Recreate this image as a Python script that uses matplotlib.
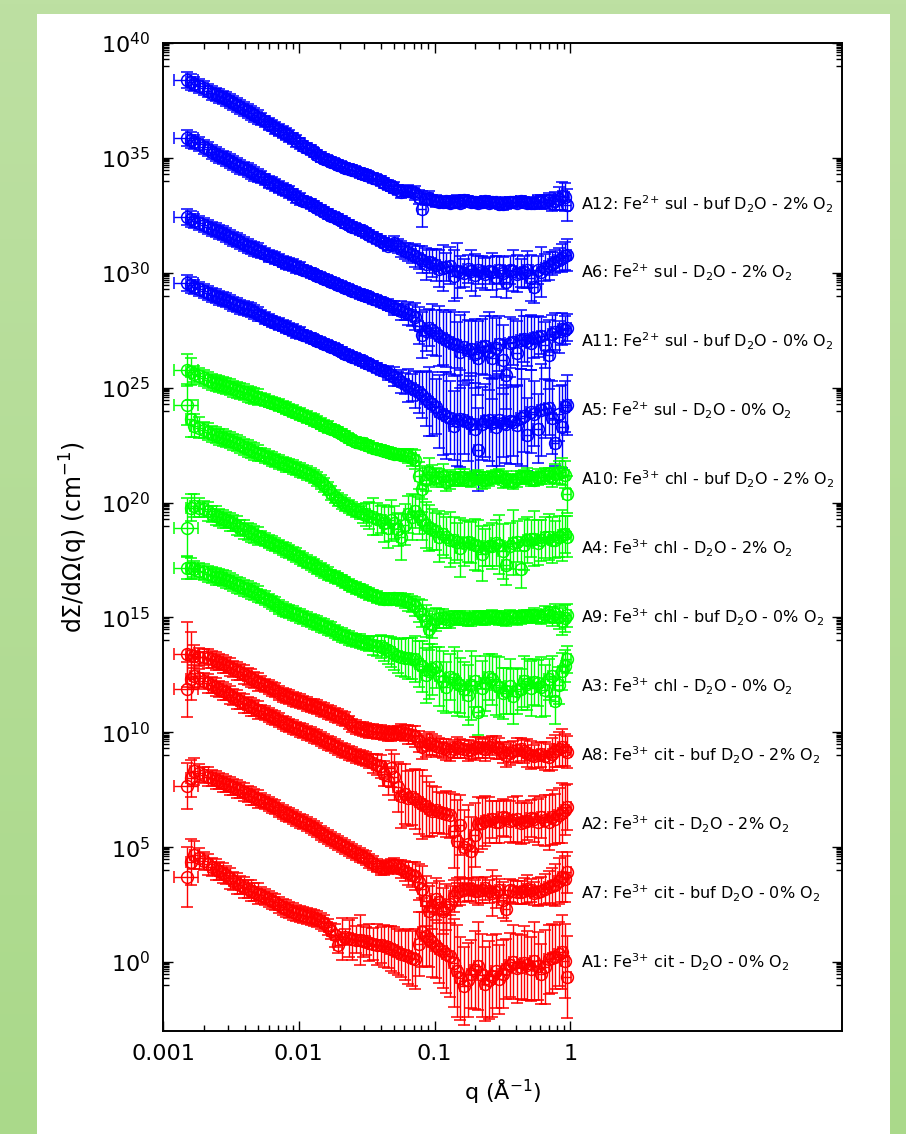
import numpy as np
import matplotlib.pyplot as plt
from matplotlib.ticker import FixedLocator, FixedFormatter, LogFormatterMathtext, NullFormatter
from matplotlib.patches import Rectangle

# scattering vector q (1/Angstrom): main grid and the interleaved grid
q = [0.0015, 0.0017, 0.0020, 0.0023, 0.0026, 0.0029, 0.0033, 0.0037, 0.0042, 0.0047,
     0.0053, 0.0060, 0.0067, 0.0076, 0.0085, 0.0096, 0.0108, 0.0122, 0.0137, 0.0154,
     0.0174, 0.0196, 0.0220, 0.0248, 0.028, 0.031, 0.035, 0.040, 0.045, 0.050,
     0.057, 0.064,
     0.072, 0.081, 0.091, 0.102, 0.115, 0.130, 0.146, 0.165, 0.185, 0.21,
     0.235, 0.265, 0.30, 0.335, 0.38, 0.43, 0.48, 0.54, 0.61, 0.69,
     0.77, 0.87, 0.95]
q_mid = [0.0016, 0.00185, 0.00215, 0.00245, 0.00275, 0.0031, 0.0035, 0.00395, 0.00445, 0.0050,
         0.00565, 0.00635, 0.0071, 0.0080, 0.0090, 0.0102, 0.0115, 0.0129, 0.0145, 0.0164,
         0.0185, 0.0208, 0.0234, 0.0264, 0.0295, 0.033, 0.0375, 0.0425, 0.0475, 0.0535,
         0.0605, 0.068,
         0.0765, 0.086, 0.0965, 0.108, 0.122, 0.138, 0.155, 0.175, 0.197, 0.222,
         0.25, 0.282, 0.317, 0.357, 0.405, 0.455, 0.51, 0.575, 0.65, 0.73,
         0.82, 0.91]

# log10 of dSigma/dOmega, each sample shifted by 10^3 from the next
lg_A12 = [38.39, 38.22, 38.04, 37.83, 37.70, 37.57, 37.39, 37.22, 37.04, 36.87,
          36.70, 36.48, 36.31, 36.13, 35.96, 35.74, 35.52, 35.35, 35.13, 34.96,
          34.83, 34.70, 34.57, 34.48, 34.35, 34.26, 34.13, 34.00, 33.83, 33.70,
          33.52, 33.57,
          33.48, 32.78, 33.26, 33.13, 33.09, 33.04, 33.13, 33.17, 33.09, 33.04,
          33.13, 33.09, 33.00, 33.04, 33.09, 33.13, 33.04, 33.04, 33.09, 33.17,
          33.13, 33.35, 32.96]
lgm_A12 = [38.30, 38.13, 37.93, 37.76, 37.63, 37.48, 37.30, 37.13, 36.95, 36.78,
           36.59, 36.40, 36.22, 36.04, 35.85, 35.63, 35.43, 35.24, 35.04, 34.89,
           34.76, 34.63, 34.52, 34.41, 34.30, 34.19, 34.06, 33.91, 33.76, 33.61,
           33.55, 33.50,
           33.30, 33.20, 33.17, 33.09, 33.13, 33.09, 33.04, 33.13, 33.07, 33.09,
           33.04, 33.07, 33.00, 33.09, 33.04, 33.09, 33.04, 33.13, 33.09, 33.04,
           33.22, 33.30]
lg_A6 = [35.87, 35.70, 35.48, 35.26, 35.09, 34.96, 34.78, 34.61, 34.48, 34.30,
         34.17, 33.96, 33.83, 33.65, 33.52, 33.30, 33.13, 33.00, 32.83, 32.65,
         32.48, 32.35, 32.17, 32.00, 31.87, 31.74, 31.57, 31.39, 31.17, 31.30,
         31.04, 30.91,
         30.74, 30.57, 30.48, 30.35, 30.22, 30.30, 30.09, 30.00, 30.09, 30.13,
         29.96, 30.04, 30.13, 29.61, 30.09, 30.00, 30.13, 29.39, 30.04, 30.30,
         30.48, 30.65, 30.78]
lgm_A6 = [35.78, 35.59, 35.37, 35.17, 35.02, 34.87, 34.70, 34.54, 34.39, 34.23,
          34.06, 33.90, 33.74, 33.59, 33.41, 33.22, 33.06, 32.91, 32.74, 32.56,
          32.41, 32.26, 32.09, 31.93, 31.80, 31.65, 31.48, 31.30, 31.20, 31.17,
          30.96, 30.83,
          30.65, 30.39, 30.43, 30.17, 30.26, 29.87, 30.04, 30.17, 29.91, 30.04,
          30.09, 29.83, 30.00, 30.13, 29.96, 30.04, 29.78, 30.13, 30.22, 30.39,
          30.57, 30.74]
lg_A11 = [32.43, 32.26, 32.09, 31.91, 31.78, 31.65, 31.48, 31.35, 31.17, 31.04,
          30.91, 30.74, 30.65, 30.48, 30.39, 30.26, 30.13, 30.00, 29.87, 29.74,
          29.61, 29.48, 29.35, 29.22, 29.09, 29.00, 28.87, 28.74, 28.61, 28.48,
          28.35, 28.22,
          28.09, 27.30, 27.61, 27.39, 27.17, 27.00, 26.87, 26.78, 26.70, 26.30,
          26.83, 26.30, 26.91, 25.57, 27.00, 27.09, 27.04, 27.17, 27.26, 26.43,
          27.43, 27.57, 27.61]
lgm_A11 = [32.35, 32.17, 32.00, 31.85, 31.72, 31.57, 31.41, 31.26, 31.10, 30.98,
           30.83, 30.70, 30.57, 30.43, 30.33, 30.20, 30.07, 29.93, 29.80, 29.67,
           29.55, 29.41, 29.28, 29.15, 29.04, 28.93, 28.80, 28.67, 28.55, 28.41,
           28.28, 28.15,
           27.70, 27.48, 27.52, 27.26, 27.09, 26.91, 26.57, 26.65, 26.48, 26.78,
           26.61, 26.74, 26.22, 26.96, 26.52, 27.13, 26.96, 27.22, 26.87, 27.35,
           27.22, 27.52]
lg_A5 = [29.57, 29.39, 29.22, 29.04, 28.91, 28.83, 28.65, 28.52, 28.43, 28.30,
         28.13, 27.96, 27.83, 27.70, 27.57, 27.43, 27.30, 27.17, 27.04, 26.91,
         26.78, 26.65, 26.48, 26.35, 26.22, 26.09, 25.96, 25.78, 25.65, 25.48,
         25.26, 25.09,
         24.91, 24.70, 24.39, 24.17, 23.87, 23.70, 23.57, 23.61, 23.43, 22.30,
         23.57, 23.48, 23.61, 23.43, 23.52, 23.70, 22.96, 23.87, 24.04, 24.13,
         22.61, 23.30, 24.26]
lgm_A5 = [29.48, 29.30, 29.13, 28.98, 28.87, 28.74, 28.59, 28.48, 28.37, 28.22,
          28.04, 27.89, 27.76, 27.63, 27.50, 27.37, 27.24, 27.11, 26.98, 26.85,
          26.72, 26.57, 26.41, 26.28, 26.15, 26.02, 25.87, 25.72, 25.57, 25.37,
          25.17, 25.00,
          24.80, 24.52, 24.30, 23.96, 23.78, 23.35, 23.65, 23.52, 23.22, 23.43,
          23.61, 23.30, 23.48, 23.57, 23.39, 23.78, 23.96, 23.22, 24.09, 23.70,
          23.87, 24.17]
lg_A10 = [25.78, 25.61, 25.43, 25.26, 25.17, 25.09, 24.96, 24.87, 24.74, 24.65,
          24.52, 24.39, 24.30, 24.17, 24.04, 23.91, 23.78, 23.65, 23.52, 23.35,
          23.22, 23.09, 22.91, 22.70, 22.61, 22.52, 22.39, 22.30, 22.22, 22.13,
          22.09, 22.04,
          21.87, 20.57, 21.35, 21.09, 21.17, 21.00, 21.04, 21.09, 20.96, 21.13,
          21.00, 21.09, 21.17, 21.04, 20.91, 21.09, 21.17, 21.00, 21.09, 21.17,
          21.26, 21.35, 20.35]
lgm_A10 = [25.70, 25.52, 25.35, 25.22, 25.13, 25.02, 24.91, 24.80, 24.70, 24.59,
           24.46, 24.35, 24.24, 24.11, 23.98, 23.85, 23.72, 23.59, 23.43, 23.28,
           23.15, 23.00, 22.80, 22.65, 22.57, 22.46, 22.35, 22.26, 22.17, 22.11,
           22.07, 21.96,
           21.17, 21.00, 21.22, 21.13, 20.91, 21.04, 21.13, 21.00, 21.09, 20.96,
           21.04, 21.13, 21.00, 20.96, 21.04, 21.13, 21.04, 21.13, 21.22, 21.09,
           21.30, 21.22]
lg_A4 = [24.26, 23.35, 23.17, 23.00, 22.87, 22.78, 22.65, 22.52, 22.35, 22.22,
         22.09, 21.96, 21.83, 21.70, 21.61, 21.48, 21.35, 21.22, 21.04, 20.78,
         20.43, 20.13, 19.91, 19.74, 19.57, 19.48, 19.39, 19.26, 18.91, 19.13,
         18.48, 19.48,
         19.61, 19.26, 18.91, 18.74, 18.61, 18.39, 18.30, 18.22, 18.26, 18.13,
         18.04, 18.09, 18.17, 17.30, 18.26, 17.09, 18.35, 18.43, 18.35, 18.48,
         18.39, 18.57, 18.52]
lgm_A4 = [23.65, 23.26, 23.09, 22.93, 22.83, 22.72, 22.59, 22.43, 22.28, 22.15,
          22.02, 21.89, 21.76, 21.65, 21.54, 21.41, 21.28, 21.13, 20.91, 20.61,
          20.26, 20.02, 19.83, 19.65, 19.52, 19.43, 19.30, 19.09, 19.22, 18.83,
          19.04, 19.35,
          19.43, 19.04, 18.83, 18.52, 18.48, 18.35, 18.04, 18.30, 18.17, 17.78,
          18.13, 18.22, 17.87, 18.09, 18.30, 18.17, 18.43, 18.26, 18.48, 18.35,
          18.52, 18.61]
lg_A9 = [18.91, 19.87, 19.70, 19.52, 19.35, 19.22, 19.09, 18.91, 18.74, 18.61,
         18.48, 18.30, 18.17, 18.00, 17.87, 17.70, 17.52, 17.35, 17.17, 17.00,
         16.83, 16.70, 16.52, 16.35, 16.22, 16.09, 15.96, 15.83, 15.78, 15.83,
         15.78, 15.65,
         15.48, 15.17, 14.48, 14.91, 14.96, 14.87, 15.00, 14.96, 14.91, 15.00,
         14.96, 15.04, 14.96, 14.91, 15.00, 15.00, 15.04, 15.09, 15.00, 15.09,
         15.17, 14.83, 15.09]
lgm_A9 = [19.78, 19.78, 19.61, 19.43, 19.28, 19.15, 19.00, 18.83, 18.67, 18.54,
          18.39, 18.24, 18.09, 17.93, 17.78, 17.61, 17.43, 17.26, 17.09, 16.91,
          16.76, 16.61, 16.43, 16.28, 16.15, 16.02, 15.89, 15.80, 15.80, 15.80,
          15.72, 15.57,
          15.30, 14.83, 14.70, 14.96, 14.91, 14.96, 14.96, 14.91, 15.00, 14.96,
          15.00, 15.00, 14.96, 15.04, 14.96, 15.04, 15.04, 15.04, 15.13, 15.04,
          15.00, 14.96]
lg_A3 = [17.17, 17.09, 16.96, 16.83, 16.74, 16.65, 16.48, 16.35, 16.22, 16.09,
         15.91, 15.74, 15.57, 15.35, 15.26, 15.13, 15.00, 14.87, 14.74, 14.61,
         14.48, 14.30, 14.17, 14.04, 13.96, 13.87, 13.78, 13.74, 13.57, 13.39,
         13.26, 13.22,
         13.17, 12.87, 12.65, 12.83, 12.22, 12.39, 12.13, 11.87, 12.04, 10.87,
         12.13, 12.30, 11.96, 11.78, 11.57, 11.87, 12.09, 12.17, 11.96, 12.30,
         11.35, 12.65, 13.17]
lgm_A3 = [17.13, 17.02, 16.89, 16.78, 16.70, 16.57, 16.41, 16.28, 16.15, 16.00,
          15.83, 15.65, 15.46, 15.30, 15.20, 15.07, 14.93, 14.80, 14.67, 14.54,
          14.39, 14.24, 14.11, 14.00, 13.91, 13.83, 13.76, 13.65, 13.48, 13.33,
          13.24, 13.20,
          12.96, 12.48, 12.74, 12.43, 11.96, 12.30, 12.04, 11.61, 12.22, 11.91,
          12.39, 12.04, 11.70, 12.00, 11.78, 12.22, 11.91, 12.13, 11.83, 12.43,
          12.04, 12.87]
lg_A8 = [13.39, 13.30, 13.26, 13.17, 13.04, 12.91, 12.74, 12.61, 12.43, 12.26,
         12.13, 11.96, 11.83, 11.61, 11.52, 11.39, 11.30, 11.17, 11.09, 10.96,
         10.83, 10.70, 10.57, 10.30, 10.17, 10.09, 10.04, 10.00, 9.91, 9.96,
         10.00, 9.91,
         9.83, 9.35, 9.52, 9.39, 9.30, 9.17, 9.35, 9.26, 9.22, 9.35,
         9.26, 9.43, 9.30, 9.00, 9.17, 9.26, 9.09, 8.96, 9.04, 8.91,
         9.17, 9.35, 9.13]
lgm_A8 = [13.35, 13.28, 13.22, 13.11, 12.98, 12.83, 12.67, 12.52, 12.35, 12.20,
          12.04, 11.89, 11.72, 11.57, 11.46, 11.35, 11.24, 11.13, 11.02, 10.89,
          10.76, 10.63, 10.43, 10.24, 10.13, 10.07, 10.02, 9.96, 9.93, 9.98,
          9.96, 9.87,
          9.61, 9.43, 9.48, 9.35, 9.26, 9.26, 9.30, 9.22, 9.30, 9.30,
          9.35, 9.35, 9.13, 9.09, 9.22, 9.17, 9.00, 9.00, 8.96, 9.04,
          9.26, 9.22]
lg_A2 = [11.87, 12.43, 12.22, 12.04, 11.87, 11.74, 11.52, 11.35, 11.17, 11.04,
         10.91, 10.74, 10.61, 10.43, 10.30, 10.17, 10.04, 9.91, 9.78, 9.61,
         9.48, 9.30, 9.17, 9.04, 8.91, 8.83, 8.65, 8.52, 7.87, 8.04,
         7.22, 7.13,
         7.09, 6.87, 6.65, 6.61, 6.48, 6.39, 5.26, 5.00, 4.83, 6.00,
         6.13, 6.22, 6.09, 6.26, 6.17, 6.04, 6.13, 6.22, 6.30, 6.09,
         6.22, 6.48, 6.74]
lgm_A2 = [12.30, 12.35, 12.13, 11.96, 11.80, 11.63, 11.43, 11.26, 11.11, 10.98,
          10.83, 10.67, 10.52, 10.37, 10.24, 10.11, 9.98, 9.85, 9.70, 9.54,
          9.39, 9.24, 9.11, 8.98, 8.87, 8.74, 8.59, 8.20, 8.43, 7.61,
          7.30, 7.17,
          6.96, 6.78, 6.57, 6.52, 6.43, 5.70, 5.96, 5.13, 5.52, 6.04,
          6.17, 6.09, 6.30, 6.13, 6.22, 6.09, 6.26, 6.09, 6.17, 6.30,
          6.39, 6.61]
lg_A7 = [7.65, 8.30, 8.13, 8.00, 7.87, 7.74, 7.61, 7.48, 7.30, 7.17,
         7.04, 6.87, 6.74, 6.52, 6.39, 6.22, 6.09, 5.91, 5.74, 5.52,
         5.35, 5.17, 5.00, 4.83, 4.65, 4.52, 4.30, 4.09, 4.13, 4.22,
         4.04, 3.87,
         3.74, 3.17, 2.22, 2.74, 2.22, 2.52, 3.04, 3.13, 3.17, 3.09,
         3.22, 3.00, 3.13, 2.30, 3.09, 3.04, 3.17, 3.00, 3.09, 3.26,
         3.35, 3.70, 3.91]
lgm_A7 = [8.00, 8.22, 8.07, 7.93, 7.80, 7.67, 7.54, 7.39, 7.24, 7.11,
          6.96, 6.80, 6.63, 6.46, 6.30, 6.15, 6.00, 5.83, 5.63, 5.43,
          5.26, 5.09, 4.91, 4.74, 4.59, 4.41, 4.20, 4.11, 4.17, 4.13,
          3.96, 3.80,
          3.48, 2.65, 2.43, 2.61, 2.39, 2.87, 3.09, 3.17, 3.09, 3.13,
          3.09, 3.04, 2.70, 3.13, 3.04, 3.09, 3.13, 3.04, 3.17, 3.30,
          3.52, 3.61]
lg_A1 = [3.70, 4.65, 4.39, 4.13, 3.96, 3.78, 3.52, 3.35, 3.17, 3.04,
         2.91, 2.74, 2.61, 2.39, 2.26, 2.13, 2.04, 1.96, 1.87, 1.70,
         1.35, 0.74, 1.09, 1.00, 0.96, 0.91, 0.78, 0.74, 0.65, 0.52,
         0.35, 0.26,
         0.13, 1.30, 1.00, 0.70, 0.48, 0.26, -0.39, -1.04, -0.52, -0.17,
         -0.96, -0.61, -0.74, -0.30, 0.00, -0.22, -0.13, 0.04, -0.52, 0.13,
         0.22, 0.43, -0.65]
lgm_A1 = [4.35, 4.52, 4.26, 4.04, 3.87, 3.65, 3.43, 3.26, 3.11, 2.98,
          2.83, 2.67, 2.50, 2.33, 2.20, 2.09, 2.00, 1.91, 1.78, 1.52,
          1.17, 1.00, 1.04, 0.98, 0.93, 0.85, 0.76, 0.70, 0.59, 0.43,
          0.30, 0.17,
          0.80, 1.13, 0.87, 0.57, 0.35, -0.04, -0.70, -0.78, -0.35, -0.57,
          -0.78, -0.39, -0.52, -0.13, -0.26, -0.04, -0.30, -0.17, -0.22, 0.17,
          0.35, 0.04]

# uncertainties, in decades (main grid, then interleaved grid)
err_A12 = [0.35] + [0.3] * 9 + [0.25] * 6 + [0.2] * 4 + [0.2] * 9 + [0.25] + [0.25, 0.25] + \
          [0.3, 0.8, 0.3, 0.25, 0.2, 0.2, 0.25, 0.2, 0.2, 0.2, 0.2, 0.2, 0.2, 0.25, 0.2, 0.2,
           0.2, 0.25, 0.3, 0.3, 0.4, 0.6, 0.7]
errm_A12 = [0.35] + [0.3] * 9 + [0.25] * 6 + [0.2] * 16 + \
           [0.3, 0.25, 0.2, 0.2, 0.2, 0.25, 0.2, 0.2, 0.2, 0.2, 0.2, 0.2, 0.25, 0.2, 0.2, 0.2,
            0.2, 0.25, 0.3, 0.35, 0.5, 0.6]
err_A6 = [0.35] + [0.3] * 9 + [0.25] * 6 + [0.2] * 4 + [0.2] * 9 + [0.3] + [0.35, 0.4] + \
         [0.5, 0.6, 0.5, 0.7, 1.0, 0.8, 1.2, 0.6, 0.9, 0.6, 0.7, 0.8, 0.6, 0.7, 0.9, 0.6,
          0.8, 0.7, 1.1, 0.6, 0.5, 0.6, 0.7]
errm_A6 = [0.35] + [0.3] * 9 + [0.25] * 6 + [0.2] * 13 + [0.3, 0.35, 0.4] + \
          [0.5, 0.7, 0.6, 0.8, 0.6, 1.1, 0.7, 0.6, 0.9, 0.7, 0.6, 0.9, 0.7, 0.6, 0.8, 0.7,
           1.0, 0.6, 0.6, 0.5, 0.5, 0.6]
err_A11 = [0.35] + [0.3] * 9 + [0.25] * 6 + [0.2] * 4 + [0.2] * 8 + [0.25, 0.3] + [0.4, 0.5] + \
          [0.6, 1.0, 0.8, 1.0, 1.2, 1.4, 1.0, 1.5, 1.2, 1.6, 1.3, 1.8, 1.2, 1.5, 1.0, 1.3,
           1.1, 0.9, 0.8, 1.5, 0.8, 0.7, 0.6]
errm_A11 = [0.35] + [0.3] * 9 + [0.25] * 6 + [0.2] * 13 + [0.25, 0.35, 0.45] + \
           [0.8, 0.9, 1.1, 1.3, 1.2, 1.4, 1.6, 1.3, 1.5, 1.2, 1.7, 1.3, 1.5, 1.1, 1.4, 1.0,
            1.2, 0.9, 1.0, 0.8, 0.7, 0.6]
err_A5 = [0.35] + [0.3] * 9 + [0.25] * 6 + [0.2] * 4 + [0.2] * 8 + [0.3, 0.4] + [0.5, 0.7] + \
         [0.8, 1.0, 1.5, 1.2, 1.8, 1.6, 2.0, 1.5, 2.2, 1.8, 1.6, 1.9, 2.0, 1.7, 1.5, 2.1,
          1.6, 1.4, 2.0, 1.2, 1.0, 1.8, 1.3]
errm_A5 = [0.35] + [0.3] * 9 + [0.25] * 6 + [0.2] * 13 + [0.3, 0.45, 0.6] + \
          [0.9, 1.2, 1.4, 1.6, 1.9, 1.5, 2.1, 1.7, 2.0, 1.6, 1.8, 2.2, 1.5, 1.9, 1.7, 1.6,
           1.8, 1.5, 1.3, 1.6, 1.2, 1.1]
err_A10 = [0.7] + [0.35] * 9 + [0.25] * 10 + [0.2] * 10 + [0.25, 0.3] + \
          [0.4, 1.0, 0.6, 0.4, 0.5, 0.4, 0.3, 0.35, 0.3, 0.3, 0.35, 0.3, 0.3, 0.35, 0.3, 0.3,
           0.35, 0.3, 0.3, 0.35, 0.4, 0.6, 0.8]
errm_A10 = [0.6] + [0.35] * 9 + [0.25] * 10 + [0.2] * 10 + [0.25, 0.35] + \
           [0.6, 0.5, 0.4, 0.35, 0.4, 0.3, 0.35, 0.3, 0.3, 0.35, 0.3, 0.3, 0.35, 0.3, 0.35, 0.3,
            0.3, 0.35, 0.3, 0.4, 0.5, 0.6]
err_A4 = [0.9, 0.5] + [0.35] * 8 + [0.3] * 10 + [0.3] * 5 + [0.5, 0.8, 0.6, 0.9, 0.7] + [1.0, 0.8] + \
         [0.7, 0.9, 1.0, 0.8, 0.9, 1.2, 0.8, 1.0, 0.9, 1.1, 0.8, 1.0, 1.3, 0.9, 1.4, 0.8,
          1.0, 1.2, 0.9, 1.0, 0.8, 1.1, 0.9]
errm_A4 = [0.8, 0.45] + [0.35] * 8 + [0.3] * 10 + [0.3] * 4 + [0.4, 0.6, 0.7, 0.8, 0.9, 0.7] + [0.9, 1.0] + \
          [0.8, 1.0, 0.9, 1.1, 0.9, 1.0, 1.3, 0.9, 1.1, 1.2, 0.9, 1.0, 1.2, 1.0, 0.9, 1.1,
           0.8, 1.0, 0.9, 1.0, 0.9, 0.8]
err_A9 = [1.3, 0.5] + [0.35] * 8 + [0.3] * 10 + [0.25] * 10 + [0.3, 0.35] + \
         [0.4, 0.6, 0.9, 0.5, 0.4, 0.35, 0.3, 0.3, 0.3, 0.3, 0.3, 0.3, 0.3, 0.3, 0.3, 0.3,
          0.3, 0.3, 0.3, 0.35, 0.4, 0.6, 0.5]
errm_A9 = [0.6] + [0.4] * 9 + [0.3] * 10 + [0.25] * 10 + [0.3, 0.35] + \
          [0.5, 0.7, 0.6, 0.4, 0.35, 0.3, 0.3, 0.3, 0.3, 0.3, 0.3, 0.3, 0.3, 0.3, 0.3, 0.3,
           0.3, 0.3, 0.35, 0.4, 0.5, 0.6]
err_A3 = [0.5] + [0.35] * 9 + [0.3] * 10 + [0.3] * 6 + [0.4, 0.5, 0.6, 0.7] + [0.8, 0.9] + \
         [1.0, 1.1, 1.2, 0.9, 1.3, 1.0, 1.4, 1.2, 1.5, 1.0, 1.2, 1.1, 1.3, 1.0, 1.2, 0.9,
          1.1, 1.0, 1.3, 0.9, 1.0, 0.8, 0.6]
errm_A3 = [0.45] + [0.35] * 9 + [0.3] * 10 + [0.3] * 6 + [0.45, 0.55, 0.65, 0.75] + [0.85, 0.9] + \
          [1.0, 1.2, 1.1, 1.3, 1.1, 1.4, 1.2, 1.3, 1.1, 1.2, 1.0, 1.3, 1.1, 1.2, 1.0, 1.1,
           1.2, 1.0, 1.1, 0.9, 0.8, 0.7]
err_A8 = [1.4, 0.5] + [0.35] * 8 + [0.3] * 10 + [0.3] * 10 + [0.35, 0.4] + \
         [0.45, 0.5, 0.5, 0.45, 0.4, 0.4, 0.45, 0.4, 0.4, 0.45, 0.5, 0.4, 0.45, 0.5, 0.45, 0.5,
          0.6, 0.5, 0.55, 0.6, 0.7, 0.8, 0.7]
errm_A8 = [1.0] + [0.4] * 9 + [0.3] * 10 + [0.3] * 10 + [0.35, 0.4] + \
          [0.45, 0.5, 0.45, 0.4, 0.45, 0.4, 0.4, 0.45, 0.5, 0.4, 0.45, 0.5, 0.45, 0.5, 0.55, 0.5,
           0.6, 0.55, 0.6, 0.7, 0.75, 0.7]
err_A2 = [1.2, 0.5] + [0.35] * 8 + [0.3] * 10 + [0.3] * 6 + [0.4, 0.5, 0.6, 1.0] + [1.4, 1.2] + \
         [1.3, 1.5, 1.2, 1.0, 0.9, 1.0, 1.8, 1.6, 1.5, 1.2, 1.1, 0.8, 0.9, 0.8, 1.0, 0.9,
          0.8, 1.0, 0.9, 1.2, 1.1, 1.3, 1.0]
errm_A2 = [0.9] + [0.4] * 9 + [0.3] * 10 + [0.3] * 6 + [0.45, 0.55, 0.8, 1.1] + [1.3, 1.2] + \
          [1.4, 1.3, 1.1, 0.9, 1.0, 1.6, 1.3, 1.7, 1.4, 1.1, 1.0, 0.9, 0.8, 0.9, 1.0, 0.9,
           0.8, 1.0, 1.1, 1.2, 1.2, 1.1]
err_A7 = [1.0, 0.6] + [0.35] * 8 + [0.3] * 10 + [0.3] * 10 + [0.4, 0.5] + \
         [0.6, 1.0, 1.1, 0.9, 1.0, 0.8, 0.6, 0.5, 0.5, 0.6, 0.5, 1.0, 0.5, 0.5, 0.5, 0.5,
          0.6, 0.5, 0.6, 0.7, 0.9, 1.1, 0.9]
errm_A7 = [0.8] + [0.4] * 9 + [0.3] * 10 + [0.3] * 10 + [0.45, 0.55] + \
          [0.8, 1.1, 1.0, 0.9, 1.0, 0.7, 0.6, 0.5, 0.5, 0.55, 0.5, 0.7, 0.8, 0.5, 0.5, 0.55,
           0.5, 0.6, 0.65, 0.8, 1.0, 1.0]
err_A1 = [1.3, 0.6] + [0.4] * 8 + [0.35] * 10 + [0.35] * 3 + [0.9, 1.1, 0.6, 0.7, 0.8, 0.9, 1.0] + \
         [1.0, 1.2] + \
         [1.3, 1.5, 1.2, 1.4, 1.6, 1.8, 2.0, 1.7, 1.5, 1.9, 1.6, 1.8, 1.5, 1.3, 1.6, 1.4,
          1.5, 1.7, 1.3, 1.5, 1.4, 1.6, 1.8]
errm_A1 = [1.0] + [0.45] * 9 + [0.35] * 10 + [0.5, 0.9, 0.8, 0.6, 0.7, 0.8, 0.9, 0.9, 1.0, 1.0] + \
          [1.1, 1.2] + \
          [1.4, 1.3, 1.5, 1.5, 1.7, 1.9, 1.8, 1.6, 1.7, 1.8, 1.7, 1.6, 1.5, 1.4, 1.5, 1.6,
           1.4, 1.5, 1.6, 1.5, 1.4, 1.6]

# relative q resolution (the first point of each set is wider)
dq_first = 0.2
dq_rest = 0.07

samples = [
    (r'A12: Fe$^{2{+}}$ sul - buf D$_2$O - 2% O$_2$', lg_A12, lgm_A12, err_A12, errm_A12, 'blue'),
    (r'A6: Fe$^{2{+}}$ sul - D$_2$O - 2% O$_2$', lg_A6, lgm_A6, err_A6, errm_A6, 'blue'),
    (r'A11: Fe$^{2{+}}$ sul - buf D$_2$O - 0% O$_2$', lg_A11, lgm_A11, err_A11, errm_A11, 'blue'),
    (r'A5: Fe$^{2{+}}$ sul - D$_2$O - 0% O$_2$', lg_A5, lgm_A5, err_A5, errm_A5, 'blue'),
    (r'A10: Fe$^{3{+}}$ chl - buf D$_2$O - 2% O$_2$', lg_A10, lgm_A10, err_A10, errm_A10, 'lime'),
    (r'A4: Fe$^{3{+}}$ chl - D$_2$O - 2% O$_2$', lg_A4, lgm_A4, err_A4, errm_A4, 'lime'),
    (r'A9: Fe$^{3{+}}$ chl - buf D$_2$O - 0% O$_2$', lg_A9, lgm_A9, err_A9, errm_A9, 'lime'),
    (r'A3: Fe$^{3{+}}$ chl - D$_2$O - 0% O$_2$', lg_A3, lgm_A3, err_A3, errm_A3, 'lime'),
    (r'A8: Fe$^{3{+}}$ cit - buf D$_2$O - 2% O$_2$', lg_A8, lgm_A8, err_A8, errm_A8, 'red'),
    (r'A2: Fe$^{3{+}}$ cit - D$_2$O - 2% O$_2$', lg_A2, lgm_A2, err_A2, errm_A2, 'red'),
    (r'A7: Fe$^{3{+}}$ cit - buf D$_2$O - 0% O$_2$', lg_A7, lgm_A7, err_A7, errm_A7, 'red'),
    (r'A1: Fe$^{3{+}}$ cit - D$_2$O - 0% O$_2$', lg_A1, lgm_A1, err_A1, errm_A1, 'red'),
]
label_exp = [33, 30, 27, 24, 21, 18, 15, 12, 9, 6, 3, 0]
label_q = 1.2

fig = plt.figure(figsize=(9.06, 11.34), dpi=100)

# page background: soft green gradient behind a white card
bg = fig.add_axes([0, 0, 1, 1], zorder=-10)
grad = np.linspace(0, 1, 256).reshape(-1, 1)
bg.imshow(grad, aspect='auto', extent=(0, 1, 0, 1), origin='upper',
          cmap=plt.matplotlib.colors.LinearSegmentedColormap.from_list('bg', ['#bde0a2', '#aad98a']))
bg.axis('off')
fig.add_artist(Rectangle((37 / 906, 0), 853 / 906, 1120 / 1134, transform=fig.transFigure,
                         facecolor='white', edgecolor='none', zorder=-5))

ax = fig.add_axes([163 / 906, 103 / 1134, 679 / 906, 988 / 1134])

qa = np.array(q + q_mid)
xerr = qa * dq_rest
xerr[0] = qa[0] * dq_first
for (name, lg, lgm, err, errm, col), e in zip(samples, label_exp):
    y = 10.0 ** np.array(lg + lgm)
    de = np.array(err + errm)
    lo = y - y * 10.0 ** (-de)
    hi = y * 10.0 ** de - y
    ax.errorbar(qa, y, yerr=[lo, hi], xerr=xerr, fmt='o', mfc='none', mec=col, ecolor=col,
                ms=8.5, mew=1.1, elinewidth=1.0, capsize=4.3, capthick=1.0)
    ax.text(label_q, 10.0 ** e, name, fontsize=11.5, va='center', ha='left')

ax.set_xscale('log')
ax.set_yscale('log')
ax.set_xlim(1e-3, 1e2)
ax.set_ylim(1e-3, 1e40)

ax.xaxis.set_major_locator(FixedLocator([1e-3, 1e-2, 1e-1, 1]))
ax.xaxis.set_major_formatter(FixedFormatter(['0.001', '0.01', '0.1', '1']))
ax.xaxis.set_minor_locator(FixedLocator([m * 10.0 ** k for k in (-3, -2, -1) for m in range(2, 10)]))
ax.xaxis.set_minor_formatter(NullFormatter())

ax.yaxis.set_major_locator(FixedLocator([10.0 ** (5 * k) for k in range(9)]))
ax.yaxis.set_major_formatter(LogFormatterMathtext())
ax.yaxis.set_minor_locator(FixedLocator([m * 10.0 ** (5 * k - 1) for k in range(9) for m in range(1, 10)]))
ax.yaxis.set_minor_formatter(NullFormatter())

ax.tick_params(which='both', direction='in', top=True, right=True, width=1.0)
ax.tick_params(which='major', length=7.5, labelsize=16, pad=9)
ax.tick_params(which='minor', length=4.5)
for s in ax.spines.values():
    s.set_linewidth(1.4)

ax.set_xlabel('q (Å$^{-1}$)', fontsize=16, labelpad=10)
ax.set_ylabel('dΣ/dΩ(q) (cm$^{-1}$)', fontsize=17, labelpad=8)

fig.savefig('out.png', dpi=100)
